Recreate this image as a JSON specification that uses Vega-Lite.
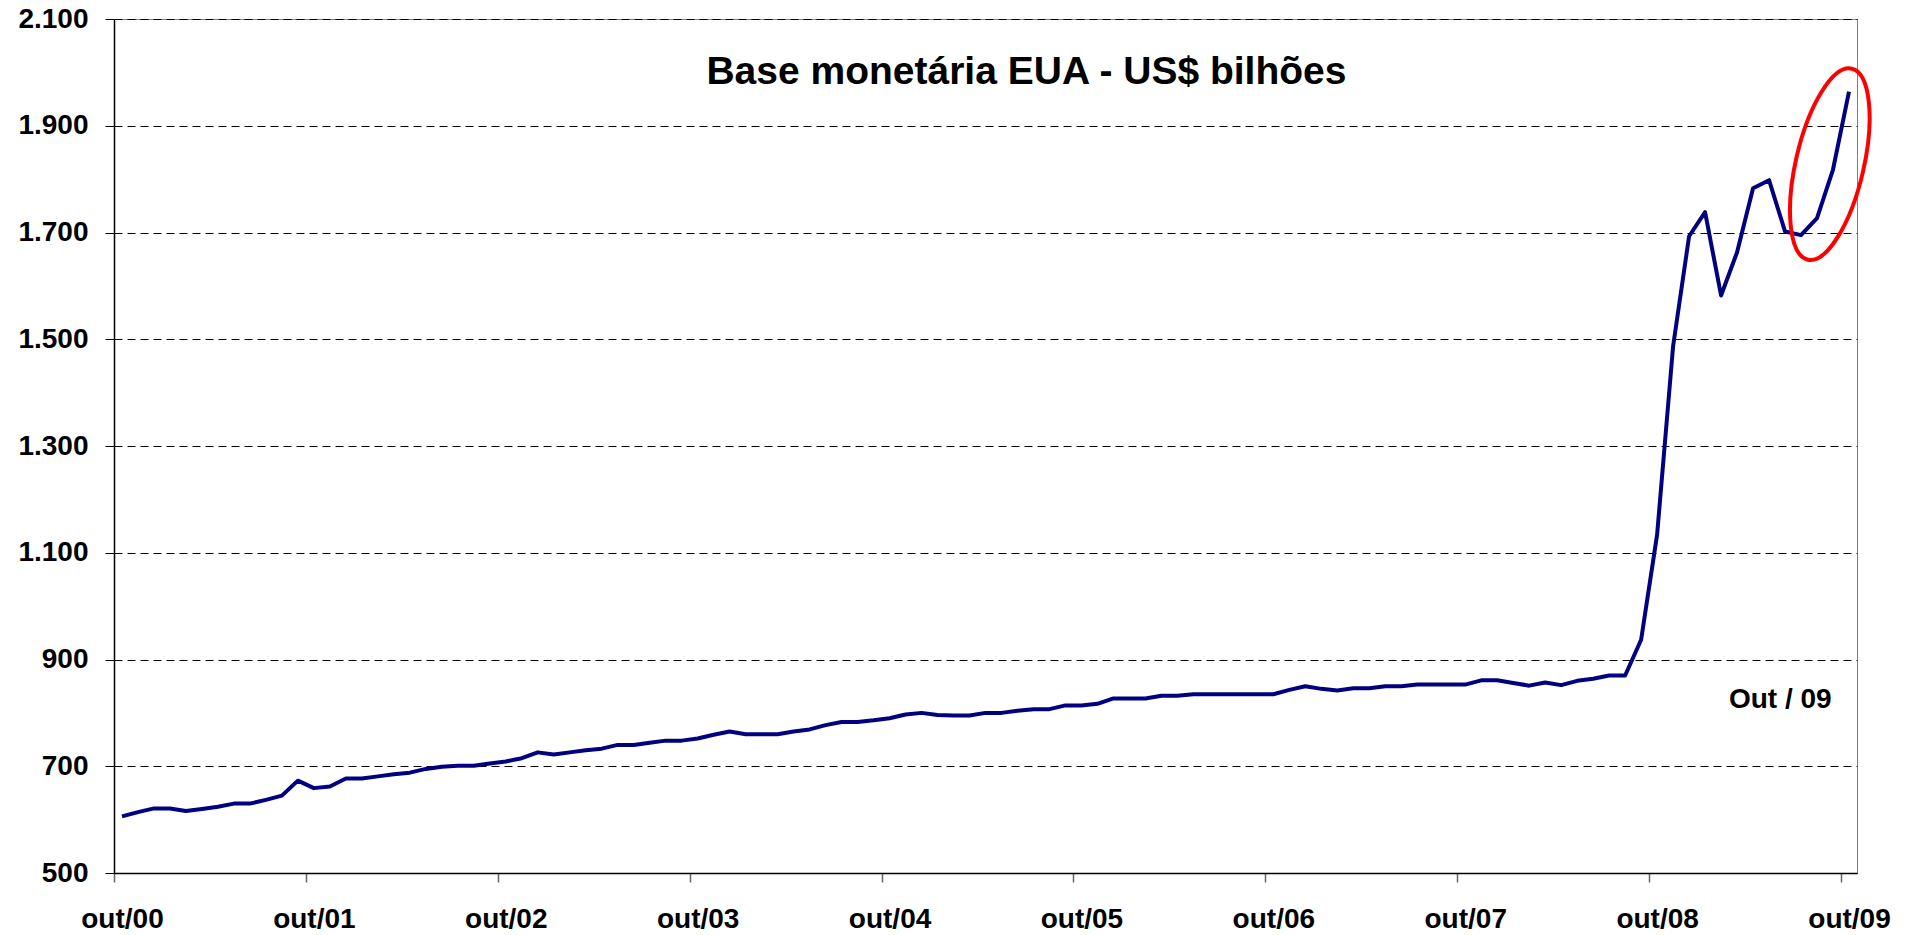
{
  "$schema": "https://vega.github.io/schema/vega-lite/v6.json",
  "autosize": {"type": "none"},
  "padding": {"left": 114, "top": 19, "right": 58, "bottom": 62},
  "width": 1743,
  "height": 854,
  "background": "white",
  "config": {
    "view": {"stroke": "#808080", "strokeWidth": 1},
    "font": "Liberation Sans"
  },
  "encoding": {
    "x": {
      "field": "i",
      "type": "quantitative",
      "scale": {"domain": [-0.5, 108.5], "nice": false, "zero": false},
      "axis": {
        "title": null,
        "values": [-0.5, 11.5, 23.5, 35.5, 47.5, 59.5, 71.5, 83.5, 95.5, 107.5],
        "labelExpr": "'out/0' + round((datum.value + 0.5) / 12)",
        "labelOffset": 8,
        "labelFont": "Liberation Sans",
        "labelFontSize": 28,
        "labelFontWeight": "bold",
        "labelColor": "black",
        "labelPadding": 23,
        "labelFlush": false,
        "labelOverlap": false,
        "tickSize": 9,
        "tickColor": "#666666",
        "tickWidth": 1.5,
        "domainColor": "black",
        "domainWidth": 1.5,
        "grid": false
      }
    },
    "y": {
      "field": "valor",
      "type": "quantitative",
      "scale": {"domain": [500, 2100], "nice": false, "zero": false},
      "axis": {
        "title": null,
        "values": [500, 700, 900, 1100, 1300, 1500, 1700, 1900, 2100],
        "labelExpr": "replace(format(datum.value, ','), ',', '.')",
        "labelFont": "Liberation Sans",
        "labelFontSize": 28,
        "labelFontWeight": "bold",
        "labelColor": "black",
        "labelPadding": 17,
        "tickSize": 9,
        "tickColor": "black",
        "domainColor": "black",
        "domainWidth": 1.5,
        "grid": true,
        "gridColor": "black",
        "gridDash": [8, 5],
        "gridWidth": 1
      }
    }
  },
  "layer": [
    {
      "data": {
        "values": [
          {"i": 0, "valor": 606}, {"i": 1, "valor": 614}, {"i": 2, "valor": 621}, {"i": 3, "valor": 621},
          {"i": 4, "valor": 616}, {"i": 5, "valor": 620}, {"i": 6, "valor": 624}, {"i": 7, "valor": 630},
          {"i": 8, "valor": 630}, {"i": 9, "valor": 637}, {"i": 10, "valor": 645}, {"i": 11, "valor": 673},
          {"i": 12, "valor": 659}, {"i": 13, "valor": 662}, {"i": 14, "valor": 677}, {"i": 15, "valor": 677},
          {"i": 16, "valor": 681}, {"i": 17, "valor": 685}, {"i": 18, "valor": 688}, {"i": 19, "valor": 695},
          {"i": 20, "valor": 699}, {"i": 21, "valor": 701}, {"i": 22, "valor": 701}, {"i": 23, "valor": 705},
          {"i": 24, "valor": 709}, {"i": 25, "valor": 715}, {"i": 26, "valor": 726}, {"i": 27, "valor": 722},
          {"i": 28, "valor": 726}, {"i": 29, "valor": 730}, {"i": 30, "valor": 733}, {"i": 31, "valor": 740},
          {"i": 32, "valor": 740}, {"i": 33, "valor": 744}, {"i": 34, "valor": 748}, {"i": 35, "valor": 748},
          {"i": 36, "valor": 752}, {"i": 37, "valor": 759}, {"i": 38, "valor": 765}, {"i": 39, "valor": 760},
          {"i": 40, "valor": 760}, {"i": 41, "valor": 760}, {"i": 42, "valor": 765}, {"i": 43, "valor": 769},
          {"i": 44, "valor": 777}, {"i": 45, "valor": 783}, {"i": 46, "valor": 783}, {"i": 47, "valor": 786},
          {"i": 48, "valor": 790}, {"i": 49, "valor": 797}, {"i": 50, "valor": 800}, {"i": 51, "valor": 796},
          {"i": 52, "valor": 795}, {"i": 53, "valor": 795}, {"i": 54, "valor": 800}, {"i": 55, "valor": 800},
          {"i": 56, "valor": 804}, {"i": 57, "valor": 807}, {"i": 58, "valor": 807}, {"i": 59, "valor": 814},
          {"i": 60, "valor": 814}, {"i": 61, "valor": 817}, {"i": 62, "valor": 827}, {"i": 63, "valor": 827},
          {"i": 64, "valor": 827}, {"i": 65, "valor": 832}, {"i": 66, "valor": 832}, {"i": 67, "valor": 835},
          {"i": 68, "valor": 835}, {"i": 69, "valor": 835}, {"i": 70, "valor": 835}, {"i": 71, "valor": 835},
          {"i": 72, "valor": 835}, {"i": 73, "valor": 843}, {"i": 74, "valor": 850}, {"i": 75, "valor": 845},
          {"i": 76, "valor": 842}, {"i": 77, "valor": 846}, {"i": 78, "valor": 846}, {"i": 79, "valor": 850},
          {"i": 80, "valor": 850}, {"i": 81, "valor": 853}, {"i": 82, "valor": 853}, {"i": 83, "valor": 853},
          {"i": 84, "valor": 853}, {"i": 85, "valor": 861}, {"i": 86, "valor": 861}, {"i": 87, "valor": 856},
          {"i": 88, "valor": 851}, {"i": 89, "valor": 857}, {"i": 90, "valor": 852}, {"i": 91, "valor": 860},
          {"i": 92, "valor": 864}, {"i": 93, "valor": 870}, {"i": 94, "valor": 870}, {"i": 95, "valor": 937},
          {"i": 96, "valor": 1134}, {"i": 97, "valor": 1487}, {"i": 98, "valor": 1693}, {"i": 99, "valor": 1738},
          {"i": 100, "valor": 1582}, {"i": 101, "valor": 1663}, {"i": 102, "valor": 1783}, {"i": 103, "valor": 1798},
          {"i": 104, "valor": 1702}, {"i": 105, "valor": 1695}, {"i": 106, "valor": 1727}, {"i": 107, "valor": 1818},
          {"i": 108, "valor": 1964}
        ]
      },
      "mark": {"type": "line", "color": "#000080", "strokeWidth": 4, "strokeJoin": "round"}
    },
    {
      "data": {"values": [{"i": 106.8, "valor": 1828}]},
      "mark": {
        "type": "point",
        "shape": "M 0.2205 -0.955 A 0.34 0.98 13 0 1 -0.2205 0.955 A 0.34 0.98 13 0 1 0.2205 -0.955 Z",
        "size": 40000,
        "filled": false,
        "stroke": "#FF0000",
        "strokeWidth": 4,
        "opacity": 1
      }
    },
    {
      "data": {"values": [{"i": 103.7, "valor": 810, "rotulo": "Out / 09"}]},
      "mark": {"type": "text", "font": "Liberation Sans", "fontSize": 28, "fontWeight": "bold", "align": "center", "baseline": "alphabetic", "color": "black"},
      "encoding": {"text": {"field": "rotulo", "type": "nominal"}}
    },
    {
      "data": {"values": [{"i": 56.56, "valor": 1977.7, "rotulo": "Base monetária EUA - US$ bilhões"}]},
      "mark": {"type": "text", "font": "Liberation Sans", "fontSize": 39, "fontWeight": "bold", "align": "center", "baseline": "alphabetic", "color": "black"},
      "encoding": {"text": {"field": "rotulo", "type": "nominal"}}
    }
  ]
}
